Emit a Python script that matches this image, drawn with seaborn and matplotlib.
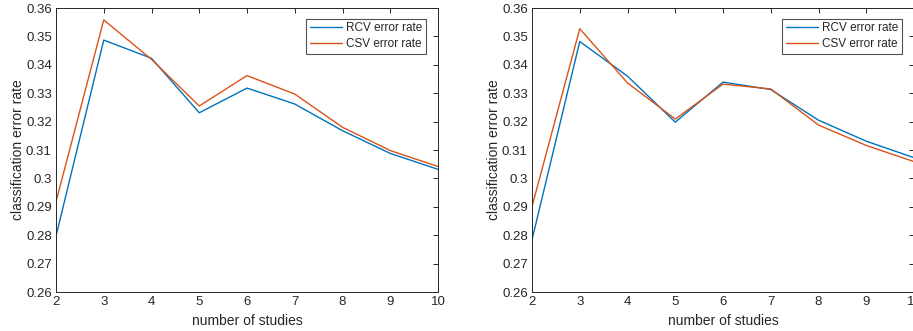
import numpy as np
import pandas as pd
import matplotlib
matplotlib.use("Agg")
import matplotlib.pyplot as plt
import seaborn as sns

studies = [2, 3, 4, 5, 6, 7, 8, 9, 10]
left_rcv = [0.2797, 0.3487, 0.3423, 0.3231, 0.3318, 0.3262, 0.3168, 0.3088, 0.3032]
left_csv = [0.2918, 0.3558, 0.3419, 0.3255, 0.3362, 0.3297, 0.3180, 0.3098, 0.3042]
right_rcv = [0.2784, 0.3482, 0.3360, 0.3198, 0.3339, 0.3313, 0.3205, 0.3131, 0.3073]
right_csv = [0.2901, 0.3527, 0.3336, 0.3209, 0.3332, 0.3315, 0.3188, 0.3116, 0.3059]
series_names = ["RCV error rate", "CSV error rate"]
y_ticks = [0.26, 0.27, 0.28, 0.29, 0.30, 0.31, 0.32, 0.33, 0.34, 0.35, 0.36]
y_ticklabels = ["0.26", "0.27", "0.28", "0.29", "0.3", "0.31", "0.32", "0.33", "0.34", "0.35", "0.36"]

sns.set_theme(style="white")
plt.rcParams["font.family"] = ["Liberation Sans", "DejaVu Sans"]

fig = plt.figure(figsize=(9.13, 3.31), dpi=100)
W, H = 913, 331
axes_px = [(56, 8, 382, 284), (532, 8, 382, 284)]
dark = "#262626"
palette = {series_names[0]: "#0072BD", series_names[1]: "#D95319"}

for (x0, y0, w, h), rcv, csv in zip(axes_px, [left_rcv, right_rcv], [left_csv, right_csv]):
    ax = fig.add_axes([x0 / W, (H - y0 - h) / H, w / W, h / H])
    df = pd.DataFrame({
        "studies": studies * 2,
        "rate": rcv + csv,
        "method": [series_names[0]] * len(studies) + [series_names[1]] * len(studies),
    })
    sns.lineplot(data=df, x="studies", y="rate", hue="method", palette=palette,
                 linewidth=1.0, ax=ax, clip_on=True)
    ax.set_xlim(2, 10)
    ax.set_ylim(0.26, 0.36)
    ax.set_xticks(studies)
    ax.set_xticklabels([str(s) for s in studies])
    ax.set_yticks(y_ticks)
    ax.set_yticklabels(y_ticklabels)
    ax.tick_params(direction="in", length=3.5, width=0.7, colors=dark,
                   labelsize=9.5, top=True, right=True, pad=3)
    for sp in ax.spines.values():
        sp.set_visible(True)
        sp.set_color(dark)
        sp.set_linewidth(0.7)
    ax.set_xlabel("number of studies", fontsize=10, color=dark, labelpad=4)
    ax.set_ylabel("classification error rate", fontsize=10, color=dark, labelpad=1)
    leg = ax.legend(loc="upper right", bbox_to_anchor=(0.969, 0.963), fontsize=8.5,
                    frameon=True, fancybox=False, handlelength=2.7,
                    borderpad=0.3, labelspacing=0.35, handletextpad=0.4,
                    borderaxespad=0)
    leg.set_title(None)
    leg.get_frame().set_edgecolor(dark)
    leg.get_frame().set_linewidth(0.8)
    for t in leg.get_texts():
        t.set_color(dark)

fig.savefig("out.png", dpi=100)
